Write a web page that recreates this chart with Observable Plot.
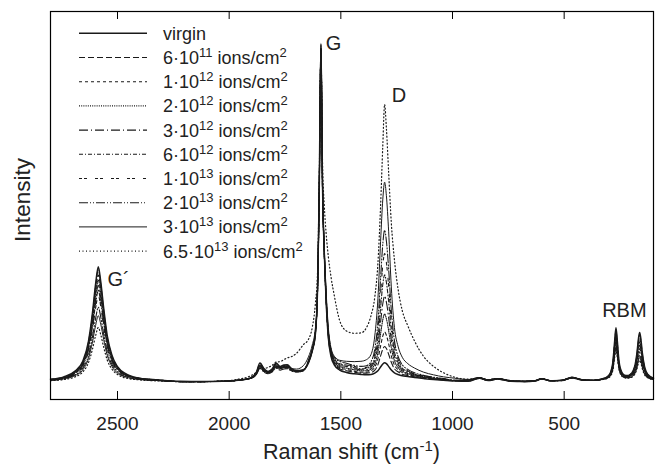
<!DOCTYPE html>
<html><head><meta charset="utf-8">
<script src="https://cdn.jsdelivr.net/npm/d3@7"></script>
<script src="https://cdn.jsdelivr.net/npm/@observablehq/plot@0.6"></script>
<style>body{margin:0;background:#fff}#chart{width:659px;height:470px}</style>
</head><body><div id="chart"></div>
<script>
// Raman shift grid (cm^-1)
const shift = [2800,2740,2690,2655,2630,2612,2598,2586,2575,2562,2546,2525,2500,2460,2400,2320,
 2220,2120,2030,1960,1905,1878,1862,1844,1826,1808,1790,1772,1755,1740,1720,1698,1668,
 1645,1628,1614,1604,1597,1589,1582,1574,1566,1556,1544,1528,1505,
 1475,1440,1410,1385,1365,1348,1334,1322,1312,1304,1296,1286,1274,1260,1244,1225,1200,1170,1130,1085,1040,990,
 930,880,840,800,740,680,630,600,560,510,465,420,370,330,
 305,292,282,274,268,262,255,245,232,218,205,192,182,174,167,162,157,150,140,125,100];

// Intensities (arb. units, G peak ~ 100)
const virgin = [0.7,1.4,3.1,6.1,11.9,20.4,28.9,34.0,29.6,21.8,13.6,7.8,4.4,2.2,1.0,0.5,
 0.1,0,0.1,0.4,1.1,2.8,5.5,3.8,3.0,3.7,5.5,4.5,4.9,5.0,3.8,3.2,3.5,
 5.5,9.0,14.0,28.0,55.0,100,58.0,38.0,24.0,13.0,7.5,4.8,3.4,
 2.7,2.3,2.1,2.0,2.1,2.5,3.2,4.3,5.2,5.6,5.3,4.5,3.4,2.6,2.1,1.7,1.5,1.2,0.9,0.6,0.4,0.2,
 0.1,1.0,0.3,0.8,0.1,0.0,0.2,0.8,0.2,0.3,1.2,0.5,0.4,0.8,
 1.5,2.8,5.7,11.9,15.9,12.0,6.3,3.2,2.0,1.8,2.1,3.1,5.1,8.5,12.9,14.5,12.9,8.5,4.4,2.1,1.0];
const dose6e11 = [0.7,1.3,3.0,5.9,11.6,19.8,28.1,33.0,28.7,21.1,13.2,7.6,4.3,2.1,1.0,0.5,
 0,0,0.1,0.4,1.1,2.7,5.3,3.7,2.9,3.6,5.3,4.3,4.7,4.8,3.7,3.1,3.5,
 5.6,9.1,14.1,27.7,54.5,99.0,57.5,37.8,24.0,13.3,7.9,5.2,3.8,
 3.2,2.8,2.5,2.5,2.7,3.4,5.0,7.6,9.6,10.4,9.8,8.1,5.7,3.8,2.9,2.2,1.8,1.4,1.1,0.7,0.5,0.2,
 0.2,1.1,0.3,0.7,0.2,0.1,0.2,0.9,0.2,0.4,1.1,0.5,0.3,0.7,
 1.5,2.7,5.5,11.5,15.3,11.5,6.1,3.1,1.9,1.7,2.0,3.0,4.9,8.1,12.3,13.8,12.3,8.1,4.2,2.0,1.0];
const dose1e12 = [0.6,1.3,2.8,5.7,11.0,18.9,26.8,31.5,27.4,20.2,12.6,7.2,4.1,2.0,0.9,0.5,
 0,0,0.1,0.4,1.1,2.6,5.0,3.5,2.8,3.5,5.1,4.2,4.6,4.7,3.6,3.1,3.4,
 5.7,9.2,14.2,28.0,55.0,99.5,58.0,38.0,24.3,13.6,8.2,5.5,4.1,
 3.6,3.1,2.8,2.8,3.2,4.3,6.7,10.5,13.5,14.7,13.7,11.2,7.6,4.9,3.5,2.7,2.1,1.6,1.2,0.8,0.5,0.3,
 0.2,0.9,0.4,0.8,0.1,0.0,0.3,0.7,0.3,0.3,1.3,0.4,0.4,0.7,
 1.4,2.6,5.2,10.9,14.5,10.9,5.7,2.9,1.8,1.6,1.9,2.8,4.6,7.6,11.4,12.8,11.4,7.6,3.9,1.9,0.9];
const dose2e12 = [0.6,1.2,2.7,5.4,10.5,18.0,25.5,30.0,26.1,19.2,12.0,6.9,3.9,2.0,0.9,0.5,
 0,0,0.1,0.4,1.0,2.5,4.8,3.4,2.7,3.3,4.9,4.0,4.4,4.5,3.5,3.0,3.4,
 5.8,9.3,14.3,27.8,54.5,98.5,57.5,37.8,24.5,13.9,8.5,5.8,4.4,
 4.0,3.5,3.2,3.2,3.7,5.2,8.6,14.1,18.3,20.0,18.6,15.1,10.0,6.2,4.2,3.1,2.4,1.8,1.4,0.9,0.6,0.3,
 0.3,1.0,0.4,0.9,0.2,0.1,0.2,0.8,0.2,0.4,1.1,0.6,0.3,0.7,
 1.4,2.4,5.0,10.3,13.8,10.3,5.5,2.8,1.7,1.5,1.8,2.6,4.2,7.0,10.5,11.8,10.5,7.0,3.6,1.7,0.9];
const dose3e12 = [0.6,1.1,2.6,5.1,10.0,17.1,24.2,28.5,24.8,18.2,11.4,6.6,3.7,1.9,0.9,0.4,
 0,0,0.1,0.4,1.0,2.4,4.6,3.2,2.6,3.2,4.7,3.9,4.2,4.3,3.4,3.0,3.3,
 5.9,9.4,14.4,28.0,55.0,99.0,58.0,38.2,24.8,14.2,8.8,6.1,4.7,
 4.5,3.8,3.5,3.5,4.2,6.2,10.6,17.6,23.1,25.3,23.5,19.0,12.3,7.5,5.0,3.5,2.6,2.0,1.5,1.0,0.7,0.3,
 0.3,1.2,0.3,0.8,0.2,0.0,0.3,0.9,0.3,0.3,1.2,0.5,0.4,0.8,
 1.3,2.3,4.7,9.8,13.1,9.8,5.2,2.6,1.6,1.4,1.7,2.4,3.9,6.4,9.7,10.8,9.7,6.4,3.4,1.6,0.8];
const dose6e12 = [0.5,1.1,2.4,4.9,9.5,16.2,23.0,27.0,23.5,17.3,10.8,6.2,3.5,1.8,0.8,0.4,
 0,0,0.1,0.4,1.0,2.3,4.4,3.1,2.5,3.1,4.5,3.7,4.1,4.2,3.3,2.9,3.3,
 6.0,9.5,14.5,27.8,54.3,98.0,57.5,38.0,25.0,14.5,9.1,6.4,5.0,
 4.9,4.1,3.8,3.9,4.7,7.2,12.8,21.8,28.8,31.6,29.4,23.7,15.2,8.9,5.7,4.0,2.9,2.2,1.6,1.1,0.7,0.4,
 0.4,1.1,0.5,0.8,0.2,0.1,0.3,0.8,0.2,0.4,1.2,0.5,0.3,0.7,
 1.2,2.2,4.5,9.3,12.5,9.3,4.9,2.5,1.5,1.4,1.6,2.2,3.6,5.8,8.8,9.8,8.8,5.8,3.1,1.5,0.8];
const dose1e13 = [0.5,1.0,2.3,4.6,8.9,15.3,21.7,25.5,22.2,16.3,10.2,5.9,3.3,1.7,0.8,0.4,
 0,0,0.1,0.4,1.0,2.2,4.1,3.0,2.4,3.0,4.2,3.6,3.9,4.0,3.2,2.8,3.2,
 6.1,9.6,14.6,28.0,54.8,98.5,58.0,38.5,25.5,14.8,9.4,6.7,5.3,
 5.0,4.5,4.1,4.2,5.3,8.3,15.1,26.0,34.5,37.9,35.2,28.3,18.0,10.4,6.6,4.5,3.2,2.3,1.8,1.2,0.8,0.4,
 0.4,1.0,0.5,0.9,0.3,0.1,0.2,0.9,0.3,0.4,1.1,0.6,0.4,0.7,
 1.2,2.1,4.2,8.7,11.6,8.7,4.6,2.3,1.4,1.3,1.4,2.0,3.2,5.2,7.9,8.8,7.9,5.2,2.8,1.4,0.7];
const dose2e13 = [0.4,0.9,2.0,4.0,7.7,13.2,18.7,22.0,19.1,14.1,8.8,5.1,2.9,1.4,0.7,0.3,
 0,0,0.1,0.4,0.9,2.1,3.9,2.8,2.3,2.8,4.0,3.4,3.7,3.8,3.1,2.8,3.2,
 6.3,9.8,14.8,27.8,54.0,97.5,57.5,38.2,25.6,15.1,9.7,7.0,6.0,
 5.4,4.8,4.5,4.7,5.9,9.6,17.7,30.6,40.8,44.8,41.6,33.4,21.1,12.1,7.5,5.0,3.6,2.6,1.9,1.3,0.9,0.4,
 0.5,1.1,0.5,0.8,0.2,0.1,0.3,0.8,0.3,0.4,1.2,0.5,0.4,0.6,
 1.1,2.0,4.0,8.2,10.9,8.2,4.3,2.2,1.3,1.2,1.3,1.8,2.9,4.7,7.0,7.8,7.0,4.7,2.5,1.2,0.7];
const dose3e13 = [0.4,0.8,1.8,3.5,6.8,11.7,16.6,19.5,17.0,12.5,7.8,4.5,2.5,1.3,0.6,0.3,
 0,0,0.1,0.4,0.9,2.2,4.0,3.1,2.7,3.3,4.5,4.1,4.5,4.6,3.8,3.7,4.7,
 7.3,10.8,15.8,29.0,55.5,98.0,59.0,39.5,27.0,16.0,10.0,7.4,6.3,
 6.0,5.9,6.0,6.5,8.0,13.5,24.5,41.5,54.0,59.0,55.0,44.5,28.0,16.0,10.5,7.2,5.3,4.0,2.8,2.0,1.4,1.0,
 0.6,1.2,0.5,0.9,0.2,0.1,0.3,0.9,0.3,0.4,1.3,0.6,0.4,0.7,
 1.1,1.9,3.7,7.7,10.2,7.7,4.1,2.1,1.3,1.1,1.2,1.7,2.6,4.2,6.4,7.1,6.4,4.2,2.3,1.2,0.6];
const dose65e13 = [0.3,0.6,1.4,2.9,5.6,9.6,13.6,16.0,13.9,10.2,6.4,3.7,2.1,1.0,0.5,0.2,
 0,0,0.1,0.7,1.7,2.8,4.0,3.9,4.2,4.8,5.8,5.9,6.5,7.0,7.4,8.4,10.9,
 12.5,16.0,23.0,33.0,58.0,97.0,65.0,52.0,44.0,37.0,31.0,25.0,18.0,
 15.0,14.3,14.4,16.0,19.5,25.0,35.0,52.0,70.0,82.0,75.0,62.0,47.0,36.0,27.5,21.0,16.5,12.0,7.5,4.5,2.6,1.3,
 0.7,1.1,0.6,0.9,0.3,0.1,0.2,0.7,0.3,0.3,1.0,0.5,0.4,0.6,
 1.0,1.7,3.4,7.1,9.4,7.1,3.8,1.9,1.2,1.0,1.1,1.5,2.4,3.8,5.6,6.3,5.6,3.8,2.0,1.1,0.6];

const seriesValues = [virgin,dose6e11,dose1e12,dose2e12,dose3e12,dose6e12,dose1e13,dose2e13,dose3e13,dose65e13];
const doseMantissa = [null,"6","1","2","3","6","1","2","3","6.5"];
const doseExponent = [null,"11","12","12","12","12","13","13","13","13"];

const xTicks = [2500,2000,1500,1000,500];
const peakNames = ["G","D","G´","RBM"];
const peakShift = [1567,1272,2545,330];
const peakIntensity = [98.2,82.8,28.4,19.2];

// styles
const dashes = [undefined,"6,3","3,3","1,1.2","9,3,1,3","4,2,1,2","3,2,3,8","9,2,1,2,1,2",undefined,"1,2.5"];
const widths = [1.5,1.1,1.1,1.1,1.1,1.1,1.1,1.1,1,1.2];
const ink = "#1a1a1a";
const font = "'Liberation Sans', Arial, Helvetica, sans-serif";

const W = 659, H = 470, mL = 50, mR = 6, mT = 11, mB = 71;
const frameH = H - mT - mB;

const lineMarks = [];
for (let i = seriesValues.length - 1; i >= 0; i--) {
  const rows = shift.map((s, j) => ({shift: s, intensity: seriesValues[i][j]}));
  lineMarks.push(Plot.line(rows, {x: "shift", y: "intensity", stroke: ink, strokeWidth: widths[i],
    strokeDasharray: dashes[i], curve: "monotone-x"}));
}
const peaks = peakNames.map((n, i) => ({name: n, shift: peakShift[i], intensity: peakIntensity[i]}));

const svg = Plot.plot({
  width: W, height: H,
  marginLeft: mL, marginRight: mR, marginTop: mT, marginBottom: mB,
  style: {fontFamily: font, fontSize: "19px", color: "#222", background: "#fff"},
  x: {domain: [2800, 100], axis: null},
  y: {domain: [-5.3, 109.5], axis: null},
  marks: [
    ...lineMarks,
    Plot.tickX(xTicks, {x: d => d, insetTop: frameH - 8, stroke: "#000", strokeWidth: 1}),
    Plot.tickX(xTicks, {x: d => d, insetBottom: frameH - 8, stroke: "#000", strokeWidth: 1}),
    Plot.axisX(xTicks, {anchor: "bottom", tickSize: 0, tickPadding: 17, tickFormat: d => String(d), label: null, fontSize: 19}),
    Plot.text(peaks, {x: "shift", y: "intensity", text: "name", textAnchor: "start", lineAnchor: "bottom", fontSize: 20, fill: "#222"}),
    Plot.frame({stroke: "#000", strokeWidth: 1.2})
  ]
});

const g = d3.select(svg).append("g").attr("font-family", font).attr("fill", "#222");
// axis titles
const xt = g.append("text").attr("x", mL + (W - mL - mR) / 2).attr("y", 459).attr("text-anchor", "middle").attr("font-size", 21.5);
xt.append("tspan").text("Raman shift (cm");
xt.append("tspan").attr("font-size", 15).attr("dy", -8).text("-1");
xt.append("tspan").attr("dy", 8).text(")");
g.append("text").attr("transform", "translate(30,200) rotate(-90)").attr("text-anchor", "middle").attr("font-size", 22.5).text("Intensity");

// legend
const lg = g.append("g").attr("text-anchor", "start");
seriesValues.forEach((_, i) => {
  const y = 33.3 + 24.2 * i;
  lg.append("line").attr("x1", 79).attr("x2", 147).attr("y1", y).attr("y2", y)
    .attr("stroke", ink).attr("stroke-width", widths[i]).attr("stroke-dasharray", dashes[i] || null);
  const t = lg.append("text").attr("x", 163).attr("y", y + 6.5).attr("font-size", 18).attr("text-anchor", "start");
  if (i === 0) { t.text("virgin"); return; }
  t.append("tspan").text(doseMantissa[i] + "·10");
  t.append("tspan").attr("font-size", 13).attr("dy", -7).text(doseExponent[i]);
  t.append("tspan").attr("dy", 7).text(" ions/cm");
  t.append("tspan").attr("font-size", 13).attr("dy", -7).text("2");
});

document.getElementById("chart").appendChild(svg);
</script></body></html>
